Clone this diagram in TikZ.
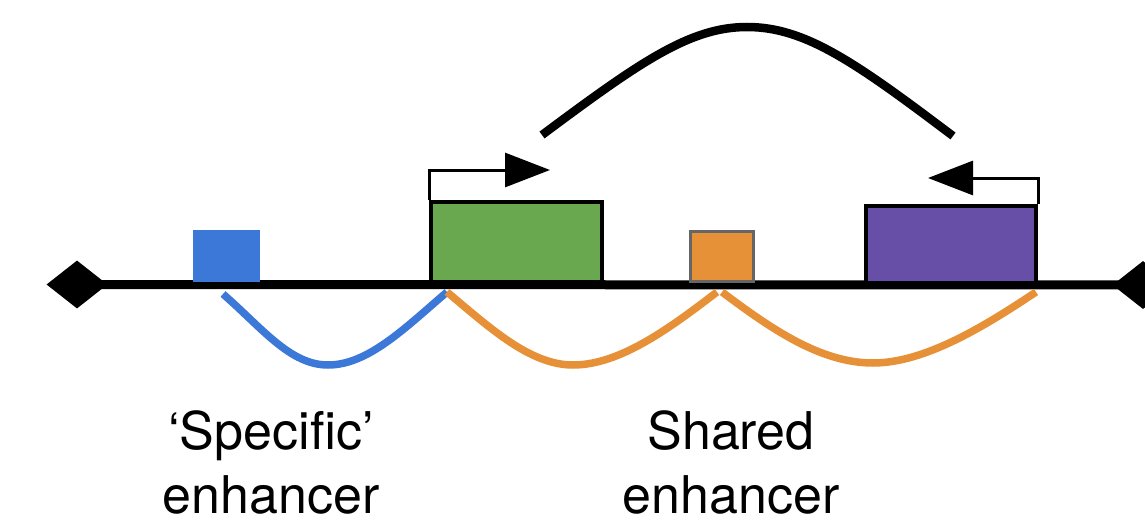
\documentclass[tikz,border=0pt]{standalone}
\usepackage{fontspec}
\setmainfont{TeX Gyre Heros}
\usetikzlibrary{shapes.geometric,arrows.meta}
\definecolor{eblue}{HTML}{3C78D8}
\definecolor{egreen}{HTML}{6AA84F}
\definecolor{eorange}{HTML}{E69138}
\definecolor{epurple}{HTML}{674EA7}
\definecolor{egray}{HTML}{666666}
\tikzset{
  genebox/.style={draw=black,line width=4pt,inner sep=0pt},
  endcap/.style={diamond,fill=black,inner sep=0pt,minimum width=61pt,minimum height=48pt},
  loopline/.style={line width=7.5pt},
  tss/.style={line width=3pt,-{Triangle[length=45pt,width=34pt]}},
  label/.style={font=\fontsize{52}{64}\selectfont,align=center,inner sep=0pt}
}
\begin{document}
\begin{tikzpicture}[x=1pt,y=-1pt]
\useasboundingbox (0,0) rectangle (1145,532);
% chromosome line
\node[endcap] (dl) at (77,284.5) {};
\node[endcap] (dr) at (1143,285) {};
\draw[line width=9pt] (dl.center) -- (dr.center);
% boxes
\node[fill=eblue,inner sep=0pt,minimum width=67pt,minimum height=52pt] (blue) at (226.5,256) {};
\node[genebox,fill=egreen,minimum width=171pt,minimum height=80pt] (green) at (516.5,242) {};
\node[draw=egray,line width=3pt,fill=eorange,inner sep=0pt,minimum width=63pt,minimum height=50pt] (orange) at (722,256.5) {};
\node[genebox,fill=epurple,minimum width=170pt,minimum height=77pt] (purple) at (951,244.5) {};
% promoter arrows
\coordinate (ga) at (550,170);
\coordinate (pa) at (928,178);
\draw[tss] (green.north west) |- (ga);
\draw[tss] (purple.north east) |- (pa);
% big interaction arc
\coordinate (arcL) at (542,135);
\coordinate (arcT) at (747,27);
\coordinate (arcR) at (953,136);
\draw[line width=8.5pt] (arcL) .. controls (640,62) and (690,27) .. (arcT) .. controls (805,27) and (855,62) .. (arcR);
% enhancer loops
\coordinate (b1) at (223,294);
\coordinate (bm) at (328,365);
\coordinate (b2) at (447,292);
\coordinate (om1) at (573,365);
\coordinate (o1) at (717,292);
\coordinate (o0) at (722,292);
\coordinate (om2) at (873,363);
\coordinate (o2) at (1036,292);
\draw[loopline,eblue] (b1) .. controls (262,328) and (290,365) .. (bm) .. controls (368,365) and (405,328) .. (b2);
\draw[loopline,eorange] (b2) .. controls (490,328) and (530,365) .. (om1) .. controls (620,365) and (670,328) .. (o1);
\draw[loopline,eorange] (o0) .. controls (770,328) and (820,363) .. (om2) .. controls (925,363) and (985,326) .. (o2);
% labels
\node[label] (t1) at (271,462) {‘Specific’\\enhancer};
\node[label] (t2) at (731,462) {Shared\\enhancer};
\end{tikzpicture}
\end{document}
